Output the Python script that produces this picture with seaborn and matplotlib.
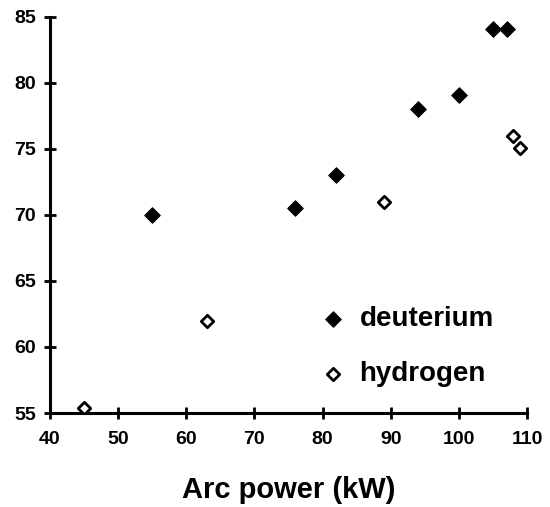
import matplotlib
matplotlib.use("Agg")
import matplotlib.pyplot as plt
import seaborn as sns
import pandas as pd

# Data
deut_power = [55, 76, 82, 94, 100, 105, 107]
deut_value = [70.0, 70.5, 73.0, 78.0, 79.1, 84.1, 84.1]
hyd_power = [45, 63, 89, 108, 109]
hyd_value = [55.4, 62.0, 71.0, 76.0, 75.1]
x_ticks = [40, 50, 60, 70, 80, 90, 100, 110]
y_ticks = [55, 60, 65, 70, 75, 80, 85]
x_label = "Arc power (kW)"
labels = ["deuterium", "hydrogen"]

sns.set_theme(style="white")
plt.rcParams['font.family'] = ['Liberation Sans', 'DejaVu Sans']

deut = pd.DataFrame({"power": deut_power, "value": deut_value})
hyd = pd.DataFrame({"power": hyd_power, "value": hyd_value})

fig = plt.figure(figsize=(5.5, 5.07), dpi=100)
ax = fig.add_axes([0.0909, 0.1854, 0.8673, 0.7811])

sns.scatterplot(data=deut, x="power", y="value", marker="D", s=62,
                color="black", edgecolor="black", linewidth=0.8,
                label=labels[0], ax=ax, zorder=3)
sns.scatterplot(data=hyd, x="power", y="value", marker="D", s=40,
                facecolor="white", edgecolor="black", linewidth=2.0,
                label=labels[1], ax=ax, zorder=3)

ax.set_xlim(40, 110)
ax.set_ylim(55, 85)
ax.set_xticks(x_ticks)
ax.set_yticks(y_ticks)
ax.set_xticklabels([str(t) for t in x_ticks], fontsize=14, fontweight="bold")
ax.set_yticklabels([str(t) for t in y_ticks], fontsize=14, fontweight="bold")
ax.tick_params(axis="both", direction="inout", length=8, width=2,
               color="black", labelcolor="black", bottom=True, left=True)
ax.tick_params(axis="x", pad=9)
ax.tick_params(axis="y", pad=6)
ax.set_xlabel(x_label, fontsize=21, fontweight="bold", labelpad=20, color="black")
ax.set_ylabel("")

for side in ["top", "right"]:
    ax.spines[side].set_visible(False)
for side in ["left", "bottom"]:
    ax.spines[side].set_linewidth(2.2)
    ax.spines[side].set_color("black")
ax.grid(False)

leg = ax.legend(loc="center left", bbox_to_anchor=(0.57, 0.167),
                frameon=False, handlelength=0.8,
                handletextpad=0.55, labelspacing=1.05, borderpad=0,
                borderaxespad=0, markerscale=1.0,
                prop={"weight": "bold", "size": 20})
for t in leg.get_texts():
    t.set_color("black")

fig.savefig("out.png", dpi=100, facecolor="white")
